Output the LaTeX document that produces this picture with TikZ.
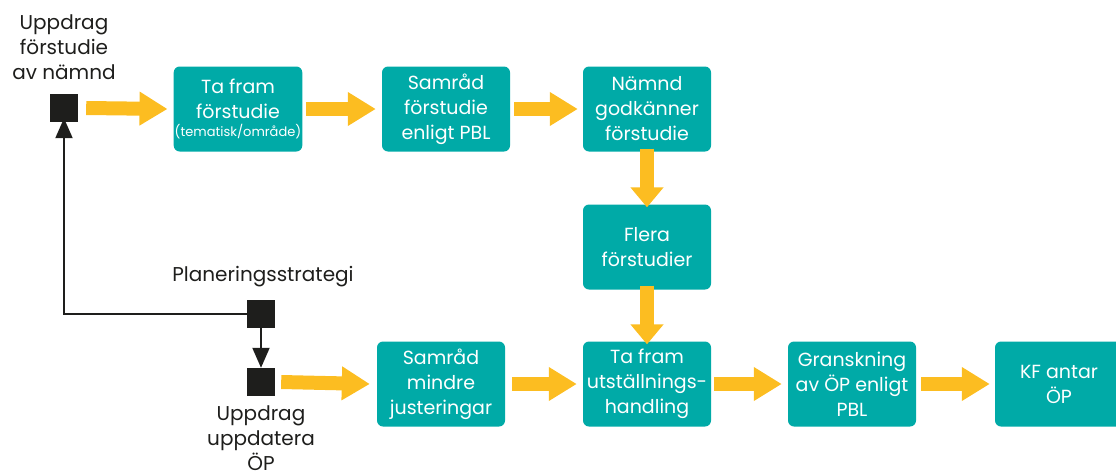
\documentclass[tikz,border=0pt]{standalone}
\usepackage{fontspec}
\setmainfont{Poppins}
\usetikzlibrary{arrows.meta}
\definecolor{boxteal}{RGB}{0,170,167}
\definecolor{arrowyellow}{RGB}{252,189,33}
\definecolor{sqblack}{RGB}{30,30,28}
\begin{document}
\begin{tikzpicture}[x=1pt,y=-1pt,
  stepbox/.style={fill=boxteal, rounded corners=6pt, text=white, minimum width=128pt, minimum height=85pt, inner sep=1pt, align=center, font=\fontsize{19}{25}\selectfont},
  sq/.style={fill=sqblack, minimum size=28pt, inner sep=0pt},
  lbl/.style={align=center, text=sqblack, font=\fontsize{20}{25}\selectfont},
  fat/.style={draw=arrowyellow, line width=14pt, -{Triangle[width=32pt,length=28pt]}},
  fatv/.style={draw=arrowyellow, line width=14pt, -{Triangle[width=32pt,length=20pt]}},
  thin/.style={draw=sqblack, line width=2pt, -{Triangle[width=17pt,length=20pt]}}]
\useasboundingbox (0,0) rectangle (1116,474);
% squares
\node[sq] (sqtop) at (64,108) {};
\node[sq] (sqplan) at (261,314) {};
\node[sq] (squpd) at (261,382) {};
% labels
\node[lbl] (ltop) at (64,47) {Uppdrag\\förstudie\\av nämnd};
\node[lbl] (lplan) at (263,277) {Planeringsstrategi};
\node[lbl] (lupd) at (261,438) {Uppdrag\\uppdatera\\ÖP};
% boxes
\node[stepbox] (b1) at (238,109) {Ta fram\\förstudie\\[-7pt]{\fontsize{13}{14}\selectfont (tematisk/område)}};
\node[stepbox] (b2) at (446,109) {Samråd\\förstudie\\enligt PBL};
\node[stepbox] (b3) at (647,109) {Nämnd\\godkänner\\förstudie};
\node[stepbox] (b4) at (647,247) {Flera\\förstudier};
\node[stepbox] (b5) at (441,384) {Samråd\\mindre\\justeringar};
\node[stepbox] (b6) at (647,384) {Ta fram\\utställnings-\\handling};
\node[stepbox] (b7) at (852,384) {Granskning\\av ÖP enligt\\PBL};
\node[stepbox] (b8) at (1059,384) {KF antar\\ÖP};
% yellow arrows
\draw[fat] ([xshift=8pt]sqtop.east) -- ([xshift=-6pt]b1.west);
\draw[fat] ([xshift=4pt]b1.east) -- ([xshift=-6pt]b2.west);
\draw[fat] ([xshift=4pt]b2.east) -- ([xshift=-5pt]b3.west);
\draw[fatv] ([yshift=3pt]b3.south) -- ([yshift=-3pt]b4.north);
\draw[fatv] ([yshift=4pt]b4.south) -- ([yshift=-3pt]b6.north);
\draw[fat] ([xshift=6pt]squpd.east) -- ([xshift=-7pt]b5.west);
\draw[fat] ([xshift=7pt]b5.east) -- ([xshift=-6pt]b6.west);
\draw[fat] ([xshift=3pt]b6.east) -- ([xshift=-6pt]b7.west);
\draw[fat] ([xshift=5pt]b7.east) -- ([xshift=-5pt]b8.west);
% black connectors
\coordinate (corner) at (sqtop.south |- sqplan.west);
\draw[thin] (sqplan.west) -- (corner) -- ([yshift=4pt]sqtop.south);
\draw[thin] (sqplan.south) -- (squpd.north);
\end{tikzpicture}
\end{document}
